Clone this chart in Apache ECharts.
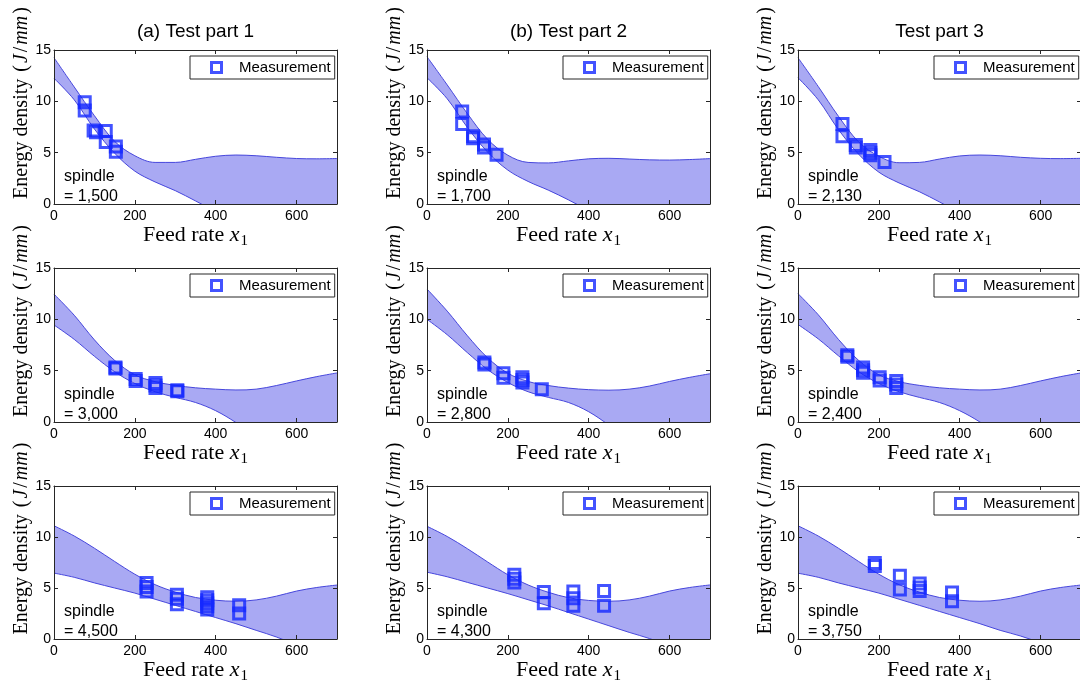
<!DOCTYPE html>
<html>
<head>
<meta charset="utf-8">
<script src="https://cdn.jsdelivr.net/npm/echarts@6/dist/echarts.min.js"></script>
<style>
html,body{margin:0;padding:0;background:#fff;}
#chart{width:1080px;height:685px;}
</style>
</head>
<body>
<div id="chart"></div>
<script>
// ---------------- data ----------------
const feedRates = [0, 50, 100, 150, 200, 250, 300, 350, 400, 450, 500, 550, 600, 650, 700];
const xTicks = [0, 200, 400, 600];
const yTicks = [0, 5, 10, 15];
const columnTitles = ['(a) Test part 1', '(b) Test part 2', 'Test part 3'];
const spindleLabels = ['1,500', '1,700', '2,130', '3,000', '2,800', '2,400', '4,500', '4,300', '3,750'];

// prediction band (upper / lower bound) for each spindle speed
const upper_1500 = [14.25, 11.4, 8.6, 6.1, 4.7, 4.05, 4.05, 4.35, 4.65, 4.77, 4.7, 4.55, 4.43, 4.4, 4.43];
const lower_1500 = [12.25, 10.15, 7.3, 4.95, 3.2, 2.15, 1.3, 0.3, -0.75, -1.8, -2.9, -4.0, -5.1, -6.2, -7.3];
const upper_1700 = [14.35, 11.6, 8.8, 6.3, 4.75, 4.05, 4.0, 4.2, 4.4, 4.45, 4.38, 4.3, 4.28, 4.33, 4.42];
const lower_1700 = [12.3, 10.25, 7.45, 5.05, 3.3, 2.2, 1.35, 0.4, -0.65, -1.7, -2.8, -3.9, -5.0, -6.1, -7.2];
const upper_2130 = [14.25, 11.45, 8.55, 6.05, 4.65, 4.02, 4.05, 4.38, 4.68, 4.77, 4.7, 4.55, 4.45, 4.42, 4.45];
const lower_2130 = [12.3, 10.15, 7.25, 4.85, 3.1, 2.05, 1.2, 0.2, -0.85, -1.9, -3.0, -4.1, -5.2, -6.3, -7.4];
const upper_3000 = [12.45, 10.4, 8.0, 6.0, 4.6, 3.93, 3.57, 3.33, 3.2, 3.12, 3.2, 3.55, 4.0, 4.42, 4.78];
const lower_3000 = [9.45, 8.05, 6.4, 4.9, 3.75, 2.95, 2.4, 1.9, 1.1, -0.05, -1.4, -2.9, -4.4, -5.9, -7.4];
const upper_2800 = [12.95, 10.8, 8.4, 6.25, 4.75, 3.95, 3.55, 3.3, 3.15, 3.1, 3.2, 3.5, 3.95, 4.35, 4.7];
const lower_2800 = [10.0, 8.5, 6.75, 5.1, 3.85, 2.95, 2.4, 1.9, 1.0, -0.3, -1.7, -3.2, -4.7, -6.2, -7.7];
const upper_2400 = [12.5, 10.45, 8.05, 6.0, 4.6, 3.93, 3.57, 3.33, 3.2, 3.12, 3.2, 3.55, 4.0, 4.42, 4.78];
const lower_2400 = [9.5, 8.1, 6.45, 4.9, 3.75, 2.95, 2.4, 1.9, 1.1, 0.0, -1.35, -2.85, -4.35, -5.85, -7.35];
const upper_4500 = [11.1, 10.1, 8.9, 7.6, 6.35, 5.33, 4.6, 4.07, 3.8, 3.7, 3.83, 4.2, 4.7, 5.05, 5.29];
const lower_4500 = [6.46, 6.05, 5.5, 5.0, 4.5, 3.9, 3.3, 2.7, 2.1, 1.5, 0.85, 0.2, -0.6, -1.5, -2.5];
const upper_4300 = [11.05, 10.05, 8.85, 7.55, 6.3, 5.3, 4.58, 4.05, 3.78, 3.7, 3.83, 4.2, 4.7, 5.05, 5.3];
const lower_4300 = [6.55, 6.1, 5.55, 5.0, 4.45, 3.85, 3.25, 2.6, 1.95, 1.3, 0.65, 0.05, -0.7, -1.6, -2.6];
const upper_3750 = [11.1, 10.1, 8.9, 7.6, 6.35, 5.33, 4.6, 4.07, 3.8, 3.7, 3.83, 4.2, 4.7, 5.05, 5.29];
const lower_3750 = [6.45, 6.05, 5.5, 5.0, 4.5, 3.9, 3.3, 2.7, 2.1, 1.5, 0.85, 0.3, -0.4, -1.3, -2.3];

// measurements (feed rate, energy density)
const measX_1500 = [76, 76, 98, 104, 128, 128, 153, 153];
const measY_1500 = [9.9, 9.1, 7.15, 7.0, 7.1, 6.05, 5.6, 5.1];
const measX_1700 = [87, 87, 114, 114, 141, 141, 172];
const measY_1700 = [9.0, 7.8, 6.6, 6.4, 5.8, 5.5, 4.8];
const measX_2130 = [110, 110, 143, 143, 179, 179, 179, 214];
const measY_2130 = [7.8, 6.6, 5.75, 5.5, 5.25, 5.0, 4.75, 4.1];
const measX_3000 = [152, 152, 202, 202, 251, 251, 251, 305, 305];
const measY_3000 = [5.3, 5.2, 4.2, 4.0, 3.8, 3.55, 3.3, 3.1, 3.0];
const measX_2800 = [142, 142, 189, 189, 236, 236, 236, 284];
const measY_2800 = [5.8, 5.6, 4.75, 4.3, 4.35, 4.1, 3.85, 3.2];
const measX_2400 = [122, 122, 161, 161, 161, 202, 202, 243, 243, 243];
const measY_2400 = [6.5, 6.35, 5.3, 5.05, 4.8, 4.35, 4.05, 4.0, 3.65, 3.3];
const measX_4500 = [229, 229, 229, 304, 304, 304, 379, 379, 379, 379, 379, 458, 458];
const measY_4500 = [5.5, 5.1, 4.65, 4.35, 3.95, 3.4, 4.1, 3.8, 3.5, 3.2, 2.9, 3.3, 2.5];
const measX_4300 = [216, 216, 216, 289, 289, 362, 362, 362, 438, 438];
const measY_4300 = [6.3, 5.9, 5.55, 4.6, 3.5, 4.65, 4.0, 3.25, 4.7, 3.25];
const measX_3750 = [190, 190, 252, 252, 301, 301, 301, 381, 381];
const measY_3750 = [7.45, 7.15, 6.2, 4.85, 5.45, 5.05, 4.7, 4.55, 3.7];

// ---------------- layout & style ----------------
const SANS = '"Liberation Sans", Arial, sans-serif';
const SERIF = '"Liberation Serif", "Times New Roman", serif';
const FILL = '#a9a9f3';
const EDGE = '#4646dc';
const MARK = '#1428ff';
const AXC = '#262626';
const colLeft = [54, 427, 798];
const rowTop = [50, 268, 486];
const rowH = [154, 154, 153];
const W = 283;

const panels = [
  {sp: spindleLabels[0], up: upper_1500, lo: lower_1500, mx: measX_1500, my: measY_1500},
  {sp: spindleLabels[1], up: upper_1700, lo: lower_1700, mx: measX_1700, my: measY_1700},
  {sp: spindleLabels[2], up: upper_2130, lo: lower_2130, mx: measX_2130, my: measY_2130},
  {sp: spindleLabels[3], up: upper_3000, lo: lower_3000, mx: measX_3000, my: measY_3000},
  {sp: spindleLabels[4], up: upper_2800, lo: lower_2800, mx: measX_2800, my: measY_2800},
  {sp: spindleLabels[5], up: upper_2400, lo: lower_2400, mx: measX_2400, my: measY_2400},
  {sp: spindleLabels[6], up: upper_4500, lo: lower_4500, mx: measX_4500, my: measY_4500},
  {sp: spindleLabels[7], up: upper_4300, lo: lower_4300, mx: measX_4300, my: measY_4300},
  {sp: spindleLabels[8], up: upper_3750, lo: lower_3750, mx: measX_3750, my: measY_3750}
];

const option = {
  animation: false,
  backgroundColor: '#ffffff',
  title: columnTitles.map((t, c) => ({
    text: t, left: colLeft[c] + W / 2, top: 22, textAlign: 'center', padding: 0,
    textStyle: {fontSize: 19, fontWeight: 'normal', fontFamily: SANS, color: '#000'}
  })),
  grid: [], xAxis: [], yAxis: [], series: [], legend: [], graphic: []
};

const xAxisName = '{n|Feed rate }{m|x}{s|1}';
const yAxisName = '{n|Energy density }{p|(}{m|J}{p|/}{m|mm}{p|)}';

panels.forEach((p, i) => {
  const r = Math.floor(i / 3), c = i % 3;
  const left = colLeft[c], top = rowTop[r], h = rowH[r];
  option.grid.push({left: left, top: top, width: W, height: h, containLabel: false, outerBoundsMode: 'none', show: false});

  const xBase = {
    gridIndex: i, type: 'value', min: xTicks[0], max: 700, interval: xTicks[1] - xTicks[0], z: 4,
    splitLine: {show: false},
    axisLine: {show: true, onZero: false, lineStyle: {color: AXC, width: 1}},
    axisTick: {show: true, inside: true, length: 4, lineStyle: {color: AXC, width: 1}}
  };
  const yBase = {
    gridIndex: i, type: 'value', min: yTicks[0], max: yTicks[yTicks.length - 1], interval: yTicks[1] - yTicks[0], z: 4,
    splitLine: {show: false},
    axisLine: {show: true, onZero: false, lineStyle: {color: AXC, width: 1}},
    axisTick: {show: true, inside: true, length: 4, lineStyle: {color: AXC, width: 1}}
  };
  option.xAxis.push(Object.assign({}, xBase, {
    position: 'bottom',
    axisLabel: {show: true, margin: 5, fontSize: 14, fontFamily: SANS, color: '#000', showMaxLabel: false},
    name: xAxisName, nameLocation: 'middle', nameGap: 13,
    nameTextStyle: {
      rich: {
        n: {fontFamily: SERIF, fontSize: 22, color: '#000'},
        m: {fontFamily: SERIF, fontSize: 22, fontStyle: 'italic', color: '#000'},
        s: {fontFamily: SERIF, fontSize: 15, color: '#000', padding: [12, 0, 0, 1]}
      }
    }
  }));
  option.xAxis.push(Object.assign({}, xBase, {position: 'top', axisLabel: {show: false}}));
  option.yAxis.push(Object.assign({}, yBase, {
    position: 'left',
    axisLabel: {show: true, margin: 3, fontSize: 14, fontFamily: SANS, color: '#000'},
    name: yAxisName, nameLocation: 'middle', nameGap: 21,
    nameTextStyle: {
      padding: [0, 0, 0, 50],
      rich: {
        n: {fontFamily: SERIF, fontSize: 20, color: '#000'},
        m: {fontFamily: SERIF, fontSize: 20, fontStyle: 'italic', color: '#000'},
        p: {fontFamily: SERIF, fontSize: 20, color: '#000', padding: [0, 2, 0, 2]}
      }
    }
  }));
  option.yAxis.push(Object.assign({}, yBase, {position: 'right', axisLabel: {show: false}}));

  const xi = 2 * i, yi = 2 * i;
  // upper bound: band fill down to the axis
  option.series.push({
    type: 'line', name: 'Upper bound', xAxisIndex: xi, yAxisIndex: yi,
    data: feedRates.map((x, k) => [x, p.up[k]]),
    smooth: 0.35, symbol: 'none', silent: true,
    lineStyle: {color: EDGE, width: 1}, areaStyle: {color: FILL, opacity: 1, origin: 'start'},
    z: 2, clip: true
  });
  // lower bound: clears the area below the band
  option.series.push({
    type: 'line', name: 'Lower bound', xAxisIndex: xi, yAxisIndex: yi,
    data: feedRates.map((x, k) => [x, p.lo[k]]),
    smooth: 0.35, symbol: 'none', silent: true,
    lineStyle: {color: EDGE, width: 1}, areaStyle: {color: '#ffffff', opacity: 1, origin: 'start'},
    z: 2, clip: true
  });
  option.series.push({
    type: 'scatter', name: 'Measurement', xAxisIndex: xi, yAxisIndex: yi,
    data: p.mx.map((x, k) => [x, p.my[k]]),
    symbol: 'rect', symbolSize: 11,
    itemStyle: {color: 'rgba(255,255,255,0)', borderColor: MARK, borderWidth: 3},
    z: 5
  });

  option.legend.push({
    left: left + W - 147, top: top + 6, orient: 'horizontal', selectedMode: false,
    data: [{name: 'Measurement', icon: 'rect',
      itemStyle: {color: 'rgba(255,255,255,0)', borderColor: MARK, borderWidth: 3}}],
    itemWidth: 10, itemHeight: 10,
    itemStyle: {color: 'rgba(255,255,255,0)', borderColor: MARK, borderWidth: 3},
    padding: [4, 4, 4, 20],
    borderColor: AXC, borderWidth: 1, borderRadius: 0, backgroundColor: '#fff',
    formatter: '   {name}',
    textStyle: {fontSize: 15, fontFamily: SANS, color: '#000', lineHeight: 15}
  });

  option.graphic.push({
    type: 'text', left: left + 10, top: top + h - 37, z: 10,
    style: {text: 'spindle\n= ' + p.sp, font: '16px ' + SANS, fill: '#000', lineHeight: 20}
  });
});

const chart = echarts.init(document.getElementById('chart'), null, {renderer: 'canvas'});
chart.setOption(option);
</script>
</body>
</html>
